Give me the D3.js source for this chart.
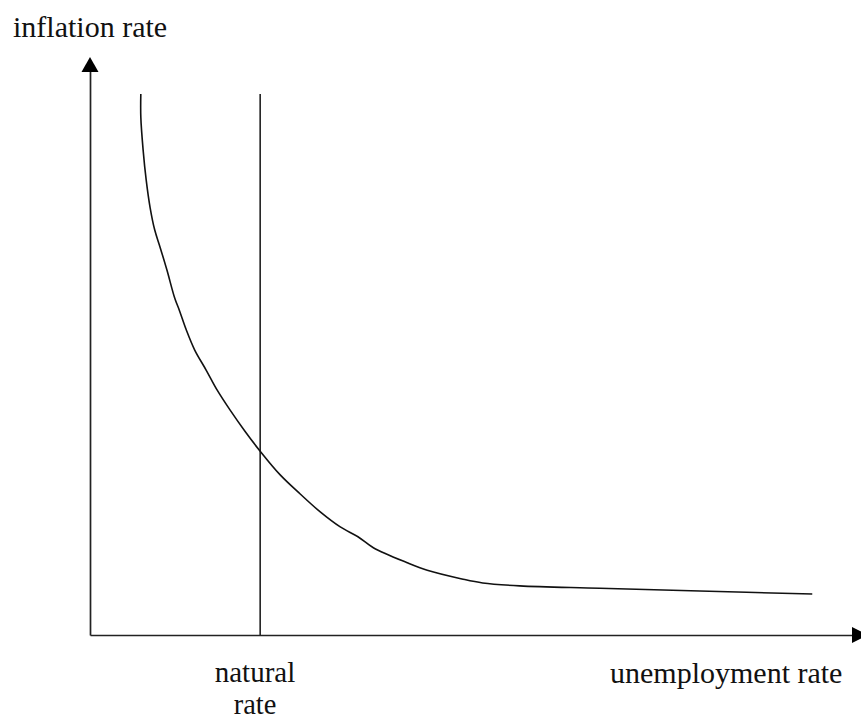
<!DOCTYPE html>
<html>
<head>
<meta charset="utf-8">
<script src="https://cdn.jsdelivr.net/npm/d3@7"></script>
<style>
  html, body { margin: 0; padding: 0; background: #fff; }
  svg { display: block; }
  text { font-family: "Liberation Serif", "Times New Roman", serif; fill: #111; }
</style>
</head>
<body>
<svg id="chart" width="861" height="720"></svg>
<script>
// Phillips curve: unemployment (x) vs inflation (y), arbitrary units 0-100
const unemployment = [6.6, 6.6, 6.9, 7.3, 7.8, 8.4, 9.1, 10.0, 11.0, 11.6, 12.5, 13.6, 15.1, 16.5, 18.2, 20.1, 22.1, 24.7, 27.3, 29.9, 32.5, 34.8, 36.8, 41.2, 43.8, 48.3, 51.0, 55.8, 66.2, 79.2, 93.8];
const inflation    = [93.6, 89.6, 83.9, 78.7, 74.0, 70.1, 67.1, 63.1, 58.3, 56.2, 52.8, 49.3, 45.8, 42.4, 38.9, 35.3, 31.8, 27.7, 24.4, 21.3, 18.7, 17.0, 15.1, 12.5, 11.2, 9.7, 9.0, 8.5, 8.1, 7.6, 7.1];
const naturalRate = [22.1];
const naturalTop = [93.6];
const xLabel = "unemployment rate";
const yLabel = "inflation rate";
const naturalLabel = ["natural", "rate"];

const svg = d3.select("#chart");
const x = d3.scaleLinear().domain([0, 100]).range([90, 860]);
const y = d3.scaleLinear().domain([0, 100]).range([635, 57]);
const axisColor = "#222";

// axes (no ticks)
svg.append("g").attr("transform", `translate(0,${y(0)})`)
  .call(d3.axisBottom(x.copy().range([90, 854])).tickValues([]).tickSizeOuter(0))
  .select(".domain").attr("stroke", axisColor).attr("stroke-width", 1.7);
svg.append("g").attr("transform", `translate(${x(0)},0)`)
  .call(d3.axisLeft(y.copy().range([635, 70])).tickValues([]).tickSizeOuter(0))
  .select(".domain").attr("stroke", axisColor).attr("stroke-width", 1.7);

// arrowheads
const x0 = x(0), y0 = y(0);
svg.append("path")
  .attr("d", `M${x0},${y(100)} L${x0 - 8.5},${y(100) + 15} L${x0 + 8.5},${y(100) + 15} Z`)
  .attr("fill", "#000");
svg.append("path")
  .attr("d", `M${x(100) + 8},${y0} L${x(100) - 8},${y0 - 8} L${x(100) - 8},${y0 + 8} Z`)
  .attr("fill", "#000");

// natural rate vertical line
svg.append("line")
  .attr("x1", x(naturalRate[0])).attr("x2", x(naturalRate[0]))
  .attr("y1", y(0)).attr("y2", y(naturalTop[0]))
  .attr("stroke", axisColor).attr("stroke-width", 1.6);

// curve
const pts = unemployment.map((u, i) => [u, inflation[i]]);
const line = d3.line().x(d => x(d[0])).y(d => y(d[1])).curve(d3.curveCatmullRom.alpha(0.5));
svg.append("path")
  .datum(pts)
  .attr("d", line)
  .attr("fill", "none")
  .attr("stroke", "#111")
  .attr("stroke-width", 1.6);

// labels
svg.append("text").attr("x", 13).attr("y", 37).attr("font-size", 30).text(yLabel);
svg.append("text").attr("x", 610).attr("y", 683).attr("font-size", 30).text(xLabel);
svg.append("text").attr("x", 255).attr("y", 682).attr("font-size", 29).attr("text-anchor", "middle").text(naturalLabel[0]);
svg.append("text").attr("x", 255).attr("y", 714).attr("font-size", 28.5).attr("text-anchor", "middle").text(naturalLabel[1]);
</script>
</body>
</html>
